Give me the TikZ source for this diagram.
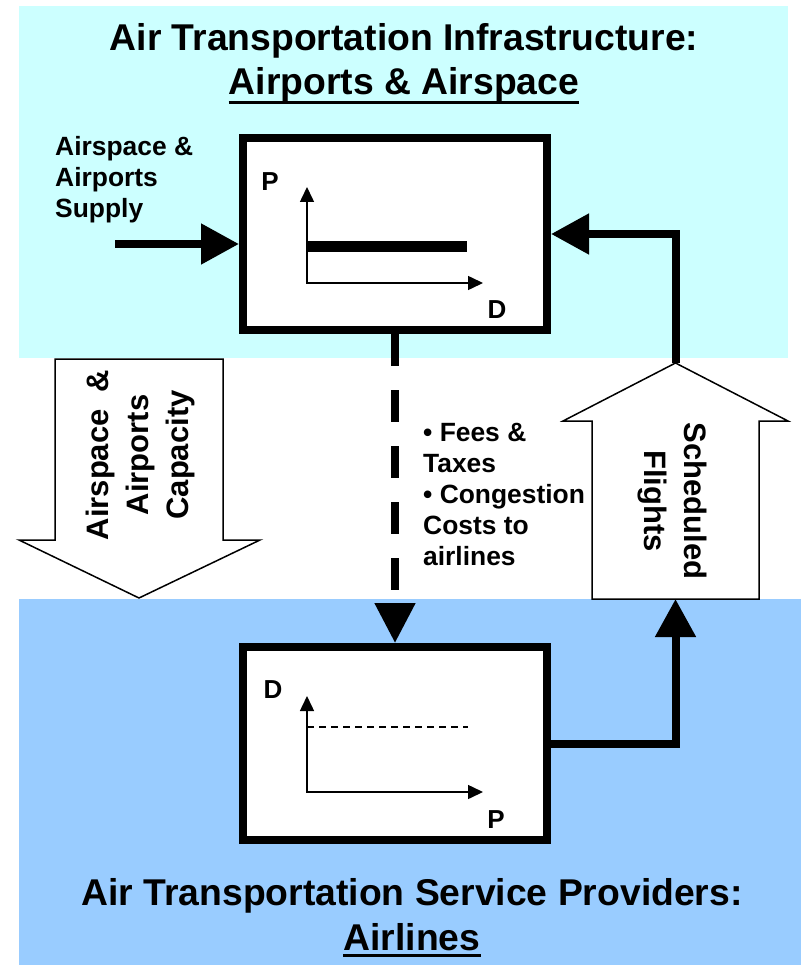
\documentclass[tikz,border=0pt]{standalone}
\usepackage{fontspec}
\setmainfont{Liberation Sans}
\usetikzlibrary{arrows.meta}

\definecolor{infrabg}{HTML}{CCFFFF}
\definecolor{airlinebg}{HTML}{99CCFF}

\tikzset{
  title/.style={font=\fontsize{37.3}{44}\selectfont\bfseries, inner sep=0pt, anchor=base},
  uline/.style={line width=3pt},
  side/.style={font=\fontsize{26.4}{31}\selectfont\bfseries, inner sep=0pt, align=left, anchor=north west},
  bigtext/.style={font=\fontsize{31}{40}\selectfont\bfseries, align=center, inner sep=0pt},
  graphbox/.style={draw, line width=8pt, fill=white, minimum width=304pt, inner sep=0pt},
  axislabel/.style={font=\fontsize{26}{29}\selectfont\bfseries, inner sep=0pt},
  axis/.style={line width=1.5pt, {Triangle[length=15pt,width=14pt]}-{Triangle[length=15pt,width=14pt]}},
  flow/.style={line width=8pt, -{Triangle[length=38pt,width=39pt]}},
  dashflow/.style={flow, dash pattern=on 32pt off 24pt},
  bigarrow/.style={draw, line width=1.5pt, fill=white},
}

\begin{document}
\begin{tikzpicture}[x=1pt, y=-1pt]
  \useasboundingbox (0,0) rectangle (801,965);

  % bands
  \fill[infrabg] (19,6) rectangle (788,358);
  \fill[airlinebg] (19,599) rectangle (801,965);

  % titles
  \node[title] (infratitle) at (404,51) {Air Transportation Infrastructure:};
  \node[title] (infraname) at (404,95) {Airports \& Airspace};
  \draw[uline] ([yshift=-8pt]infraname.base west) -- ([yshift=-8pt]infraname.base east);
  \node[title] (airlinetitle) at (412,905) {Air Transportation Service Providers:};
  \node[title] (airlinename) at (412,950) {Airlines};
  \draw[uline] ([yshift=-5pt]airlinename.base west) -- ([yshift=-5pt]airlinename.base east);

  % big hollow arrows
  \draw[bigarrow] (55,359) -- (223,359) -- (223,540) -- (260,540) -- (139,598)
    -- (19,540) -- (55,540) -- cycle;
  \draw[bigarrow] (592,599) -- (592,421) -- (563,421) -- (675.5,363) -- (788,421)
    -- (759,421) -- (759,599) -- cycle;
  \coordinate (flightstop) at (675.5,363);
  \coordinate (flightsbot) at (675.5,599);
  \node[bigtext, rotate=90] (capacity) at (140,455) {Airspace \ \& \\Airports\\Capacity};
  \node[bigtext, rotate=-90] (flights) at (672,501) {Scheduled\\Flights};

  % boxes
  \node[graphbox, minimum height=192pt] (infra) at (395,234) {};
  \node[graphbox, minimum height=193pt] (airlines) at (395,743.5) {};

  % supply / demand sketches
  \draw[axis] (307,187) -- (307,283) -- (483,283);
  \draw[line width=11pt] (307,247) -- (467,247);
  \node[axislabel] (pinfra) at (270,182) {P};
  \node[axislabel] (dinfra) at (497,310) {D};

  \draw[axis] (307,696) -- (307,792) -- (483,792);
  \draw[line width=1.5pt, dash pattern=on 7pt off 5pt] (307,727) -- (468,727);
  \node[axislabel] (dair) at (273,690) {D};
  \node[axislabel] (pair) at (496,820) {P};

  % texts
  \node[side] (supply) at (55,136) {Airspace \&\\Airports\\Supply};
  \node[side] (fees) at (423,423) {• Fees \&\\Taxes\\• Congestion\\Costs to\\airlines};

  % connectors
  \coordinate (supplyin) at (115,244);
  \draw[flow] (supplyin) -- (supplyin -| infra.west);
  \draw[dashflow, -{Triangle[length=40pt,width=39pt]}] (infra.south) -- (airlines.north);
  \draw[flow] (airlines.east) -| (flightsbot);
  \draw[flow] (flightstop) |- (infra.east);
\end{tikzpicture}
\end{document}
